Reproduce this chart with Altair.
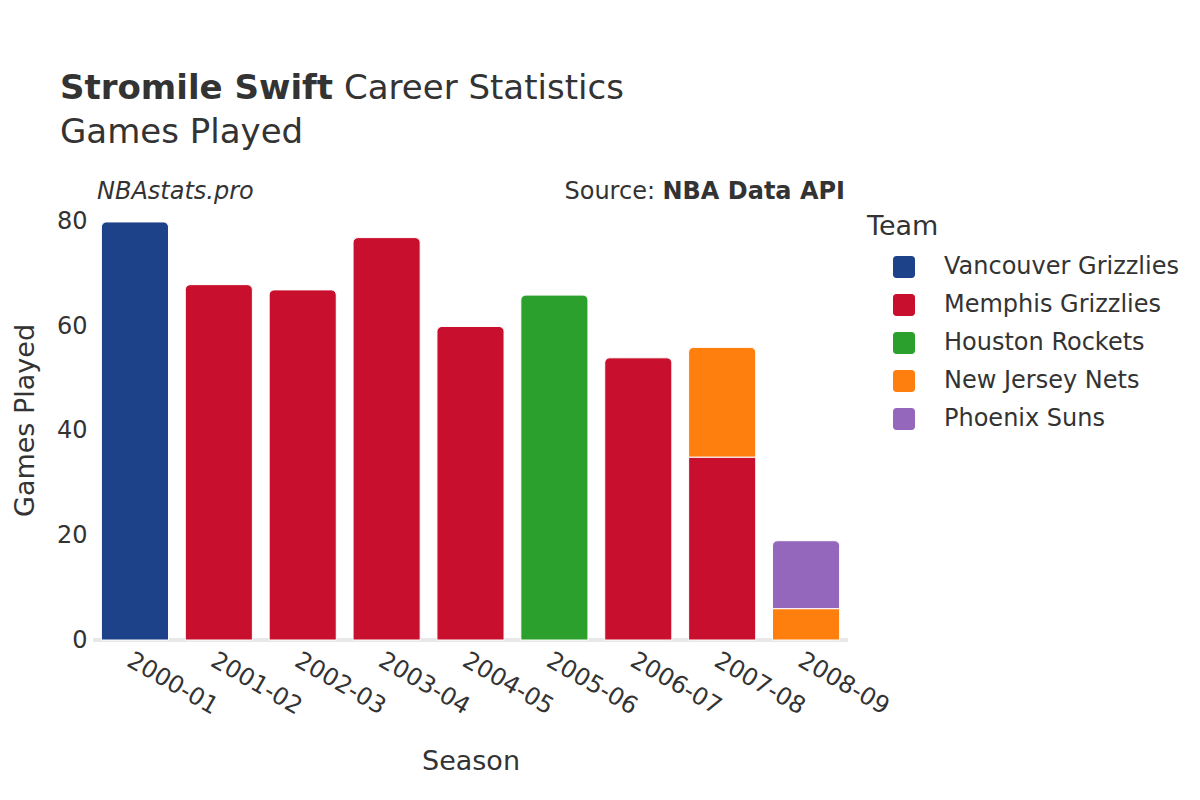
import altair as alt
import pandas as pd

seasons = ["2000-01", "2001-02", "2002-03", "2003-04", "2004-05", "2005-06", "2006-07", "2007-08", "2007-08", "2008-09", "2008-09"]
teams = ["Vancouver Grizzlies", "Memphis Grizzlies", "Memphis Grizzlies", "Memphis Grizzlies", "Memphis Grizzlies", "Houston Rockets", "Memphis Grizzlies", "Memphis Grizzlies", "New Jersey Nets", "New Jersey Nets", "Phoenix Suns"]
games = [80, 68, 67, 77, 60, 66, 54, 35, 21, 6, 13]
is_top = [True, True, True, True, True, True, True, False, True, False, True]

team_order = ["Vancouver Grizzlies", "Memphis Grizzlies", "Houston Rockets", "New Jersey Nets", "Phoenix Suns"]
team_colors = ["#1D428A", "#C8102E", "#2CA02C", "#FF7F0E", "#9467BD"]
season_order = ["2000-01", "2001-02", "2002-03", "2003-04", "2004-05", "2005-06", "2006-07", "2007-08", "2008-09"]
y_ticks = [0, 20, 40, 60, 80]

df = pd.DataFrame({"Season": seasons, "Team": teams, "Games": games, "top": is_top})
df["order"] = [team_order.index(t) for t in teams]

FONT = "DejaVu Sans"
TXT = "#333333"
ROUNDED = ("M-0.7,-1 H0.7 A0.3,0.3 0 0 1 1,-0.7 V0.7 A0.3,0.3 0 0 1 0.7,1 "
           "H-0.7 A0.3,0.3 0 0 1 -1,0.7 V-0.7 A0.3,0.3 0 0 1 -0.7,-1 Z")

base = alt.Chart(df).transform_stack(
    stack="Games", groupby=["Season"], as_=["y0", "y1"], sort=[alt.SortField("order", "ascending")]
)

x_enc = alt.X("Season:N", sort=season_order, title="Season",
              scale=alt.Scale(paddingInner=0.2, paddingOuter=0.1),
              axis=alt.Axis(labelAngle=30, labelAlign="left", labelBaseline="top",
                            labelFontSize=24, labelColor=TXT, labelPadding=8,
                            titleFontSize=27, titleColor=TXT, titleFontWeight="normal",
                            titlePadding=30, ticks=False, domain=False))
y_enc = alt.Y("y1:Q", title="Games Played",
              scale=alt.Scale(domain=[0, 84.2], nice=False),
              axis=alt.Axis(values=y_ticks, labelFontSize=24, labelColor=TXT,
                            titleFontSize=27, titleColor=TXT, titleFontWeight="normal",
                            titlePadding=17, gridColor="#bbbbbb", gridWidth=1,
                            ticks=False, domain=False, labelPadding=6))
color_enc = alt.Color("Team:N", sort=team_order,
                      scale=alt.Scale(domain=team_order, range=team_colors),
                      legend=alt.Legend(title="Team", orient="none", legendX=774, legendY=14,
                                        titleFontSize=27, titleColor=TXT, titleFontWeight="normal",
                                        labelFontSize=24, labelColor=TXT, labelLimit=0,
                                        symbolType=ROUNDED, symbolSize=484, symbolStrokeWidth=0,
                                        rowPadding=14, labelOffset=28, padding=0, titlePadding=14,
                                        symbolOffset=25))

bottom_bars = base.transform_filter("!datum.top").mark_bar(stroke="white", strokeWidth=1).encode(
    x=x_enc, y=y_enc, y2="y0:Q", color=color_enc)
top_bars = base.transform_filter("datum.top").mark_bar(
    stroke="white", strokeWidth=1, cornerRadiusTopLeft=5, cornerRadiusTopRight=5).encode(
    x=x_enc, y=y_enc, y2="y0:Q", color=color_enc)

zero = alt.Chart(df).mark_rule(color="#e8e8e8", strokeWidth=3).encode(y=alt.datum(0))

def txt(text, x, y, size, weight="normal", style="normal", align="left"):
    return alt.Chart(pd.DataFrame({"t": [text]})).mark_text(
        fontSize=size, fontWeight=weight, fontStyle=style, align=align, baseline="middle",
        color=TXT, font=FONT).encode(text="t:N", x=alt.value(x), y=alt.value(y))

texts = [
    txt("Stromile Swift", -33, -111, 34, weight="bold"),
    txt("Career Statistics", 251, -111, 34),
    txt("Games Played", -33, -67, 34),
    txt("NBAstats.pro", 4, -8, 24, style="italic"),
    txt("NBA Data API", 752, -8, 24, weight="bold", align="right"),
    txt("Source:", 562, -8, 24, align="right"),
]

chart = alt.layer(zero, bottom_bars, top_bars, *texts).properties(
    width=755, height=440,
    autosize=alt.AutoSizeParams(type="none"),
    padding={"left": 85, "top": 192, "right": 340, "bottom": 150},
    background="white",
).configure(font=FONT).configure_view(stroke=None)

chart.save("out.html", embed_options={"renderer": "svg", "actions": False})
